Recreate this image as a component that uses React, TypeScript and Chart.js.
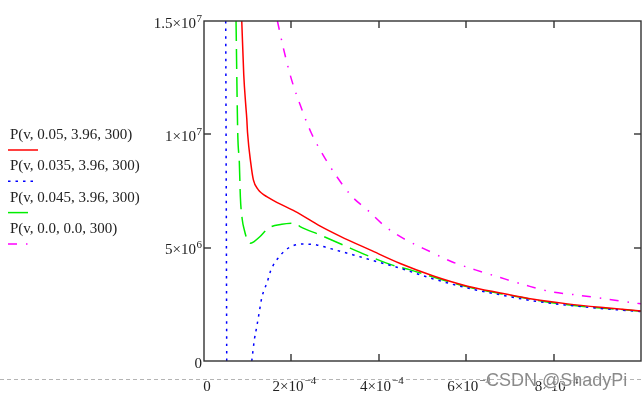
import React, { useEffect, useRef } from 'react';
import { Chart, registerables } from 'chart.js';

Chart.register(...registerables);

// ---- data (v in m^3/mol, P in Pa) ----
const redV = [8.64e-5, 9.1e-5, 9.55e-5, 9.78e-5, 9.97e-5, 1.07e-4, 1.13e-4, 1.244e-4, 1.322e-4, 1.436e-4, 1.665e-4, 2.085e-4, 2.66e-4, 3.12e-4, 3.8e-4, 4.49e-4, 5.25e-4, 6.03e-4, 6.78e-4, 7.54e-4, 8.32e-4, 9.07e-4, 1.0e-3];
const redP = [1.5e7, 1.262e7, 1.13e7, 1.072e7, 1.006e7, 8.74e6, 7.99e6, 7.55e6, 7.4e6, 7.25e6, 7.0e6, 6.6e6, 5.95e6, 5.5e6, 4.9e6, 4.3e6, 3.75e6, 3.3e6, 3.0e6, 2.72e6, 2.52e6, 2.37e6, 2.21e6];

const blueLeftV = [4.97e-5, 5.09e-5, 5.2e-5];
const blueLeftP = [1.5e7, 7.55e6, 0];
const blueRightV = [1.093e-4, 1.152e-4, 1.207e-4, 1.267e-4, 1.322e-4, 1.381e-4, 1.45e-4, 1.528e-4, 1.588e-4, 1.679e-4, 1.84e-4, 2.046e-4, 2.275e-4, 2.58e-4, 2.96e-4, 3.42e-4, 3.96e-4, 4.41e-4, 5.25e-4, 6.03e-4, 6.78e-4, 7.54e-4, 8.32e-4, 9.07e-4, 1.0e-3];
const blueRightP = [0, 0.93e6, 1.51e6, 2.18e6, 2.8e6, 3.15e6, 3.5e6, 4.0e6, 4.24e6, 4.5e6, 4.85e6, 5.09e6, 5.16e6, 5.12e6, 4.92e6, 4.68e6, 4.38e6, 4.14e6, 3.62e6, 3.22e6, 2.92e6, 2.65e6, 2.46e6, 2.32e6, 2.18e6];

const greenV = [7.33e-5, 7.72e-5, 8.09e-5, 8.32e-5, 8.77e-5, 9.23e-5, 9.74e-5, 1.054e-4, 1.146e-4, 1.283e-4, 1.473e-4, 1.78e-4, 2.085e-4, 2.2e-4, 2.66e-4, 3.18e-4, 3.73e-4, 4.33e-4, 4.72e-4, 5.25e-4, 6.03e-4, 6.78e-4, 8.32e-4, 1.0e-3];
const greenP = [1.5e7, 1.006e7, 8.74e6, 7.25e6, 6.22e6, 5.78e6, 5.43e6, 5.19e6, 5.27e6, 5.49e6, 5.86e6, 6.03e6, 6.08e6, 5.93e6, 5.56e6, 5.12e6, 4.66e6, 4.22e6, 4.02e6, 3.7e6, 3.27e6, 2.97e6, 2.48e6, 2.2e6];

const pinkV = [1.68e-4, 1.817e-4, 1.993e-4, 2.2e-4, 2.45e-4, 2.697e-4, 3.04e-4, 3.39e-4, 3.74e-4, 4.15e-4, 4.56e-4, 5.18e-4, 5.67e-4, 6.21e-4, 6.78e-4, 7.35e-4, 7.93e-4, 8.54e-4, 9.19e-4, 1.0e-3];
const pinkP = [1.5e7, 1.38e7, 1.248e7, 1.13e7, 1.008e7, 9.18e6, 8.13e6, 7.25e6, 6.66e6, 5.93e6, 5.41e6, 4.82e6, 4.38e6, 4.02e6, 3.68e6, 3.35e6, 3.06e6, 2.91e6, 2.74e6, 2.52e6];

const seriesLabels = ['P(v, 0.05, 3.96, 300)', 'P(v, 0.035, 3.96, 300)', 'P(v, 0.045, 3.96, 300)', 'P(v, 0.0, 0.0, 300)'];

const xTickValues = [0, 2e-4, 4e-4, 6e-4, 8e-4];
const xTickBase = ['0', '2×10', '4×10', '6×10', '8×10'];
const xTickExp = ['', '−4', '−4', '−4', '−4'];
const yTickValues = [0, 5e6, 1e7, 1.5e7];
const yTickBase = ['0', '5×10', '1×10', '1.5×10'];
const yTickExp = ['', '6', '7', '7'];

const watermark = 'CSDN @ShadyPi';

// ---- styles ----
const SERIF = '"Liberation Serif", "Times New Roman", serif';
const SANS = '"Liberation Sans", Arial, sans-serif';
const styles = [
  { color: '#ff0000', dash: [] as number[], sample: 30 },
  { color: '#0000ff', dash: [2.5, 5], sample: 25 },
  { color: '#00ee00', dash: [20, 8], sample: 20 },
  { color: '#ff00ff', dash: [9, 9, 1.5, 8.5], sample: 20 },
];

const pts = (vs: number[], ps: number[]) => vs.map((v, i) => ({ x: v, y: ps[i] }));

const decorPlugin = {
  id: 'decor',
  afterDatasetsDraw(chart: any) {
    const { ctx, chartArea: a, scales } = chart;
    const xs = scales.x;
    const ys = scales.y;
    ctx.save();

    // frame
    ctx.strokeStyle = '#333333';
    ctx.lineWidth = 1.4;
    ctx.setLineDash([]);
    ctx.strokeRect(a.left, a.top, a.right - a.left, a.bottom - a.top);

    const line = (x1: number, y1: number, x2: number, y2: number) => {
      ctx.beginPath();
      ctx.moveTo(x1, y1);
      ctx.lineTo(x2, y2);
      ctx.stroke();
    };
    // inner ticks
    xTickValues.forEach((v) => {
      if (v <= xs.min || v >= xs.max) return;
      const px = Math.round(xs.getPixelForValue(v));
      line(px, a.top, px, a.top + 7);
      line(px, a.bottom, px, a.bottom - 7);
    });
    yTickValues.forEach((v) => {
      if (v <= ys.min || v >= ys.max) return;
      const py = Math.round(ys.getPixelForValue(v));
      line(a.left, py, a.left + 7, py);
      line(a.right, py, a.right - 7, py);
    });

    // bottom dashed separator (page artefact)
    ctx.strokeStyle = '#b4b4b4';
    ctx.lineWidth = 1;
    ctx.setLineDash([4, 3]);
    line(0, 379.5, chart.width, 379.5);
    ctx.setLineDash([]);

    ctx.fillStyle = '#222222';
    ctx.textBaseline = 'alphabetic';
    // x tick labels
    xTickValues.forEach((v, i) => {
      const px = xs.getPixelForValue(v) + 3;
      ctx.font = `15px ${SERIF}`;
      const wb = ctx.measureText(xTickBase[i]).width;
      ctx.font = `11px ${SERIF}`;
      const we = xTickExp[i] ? ctx.measureText(xTickExp[i]).width + 1 : 0;
      const start = px - (wb + we) / 2;
      const base = a.bottom + 30;
      ctx.textAlign = 'left';
      ctx.font = `15px ${SERIF}`;
      ctx.fillText(xTickBase[i], start, base);
      if (xTickExp[i]) {
        ctx.font = `11px ${SERIF}`;
        ctx.fillText(xTickExp[i], start + wb + 1, base - 7);
      }
    });
    // y tick labels
    yTickValues.forEach((v, i) => {
      const py = ys.getPixelForValue(v);
      const right = a.left - 2;
      const base = py + 6.5;
      ctx.textAlign = 'right';
      let we = 0;
      if (yTickExp[i]) {
        ctx.font = `11px ${SERIF}`;
        we = ctx.measureText(yTickExp[i]).width + 0.5;
        ctx.fillText(yTickExp[i], right, base - 6);
      }
      ctx.font = `15px ${SERIF}`;
      ctx.fillText(yTickBase[i], right - we, base);
    });

    // legend (Mathcad style: label above line sample)
    seriesLabels.forEach((lab, i) => {
      const ty = 139 + i * 31.3;
      ctx.font = `15px ${SERIF}`;
      ctx.textAlign = 'left';
      ctx.fillStyle = '#222222';
      ctx.fillText(lab, 10, ty);
      ctx.strokeStyle = styles[i].color;
      ctx.lineWidth = 1.5;
      ctx.setLineDash(styles[i].dash);
      line(8, ty + 11, 8 + styles[i].sample, ty + 11);
      ctx.setLineDash([]);
    });

    // watermark
    ctx.font = `18px ${SANS}`;
    ctx.textAlign = 'left';
    ctx.lineWidth = 2;
    ctx.strokeStyle = 'rgba(255,255,255,0.6)';
    ctx.strokeText(watermark, 486, 386);
    ctx.fillStyle = 'rgba(125,125,125,0.9)';
    ctx.fillText(watermark, 486, 386);

    ctx.restore();
  },
};

export default function App() {
  const ref = useRef<HTMLCanvasElement | null>(null);
  useEffect(() => {
    document.body.style.margin = '0';
    const canvas = ref.current;
    if (!canvas) return;
    const mk = (label: string, data: any[], s: { color: string; dash: number[] }) => ({
      label,
      data,
      borderColor: s.color,
      backgroundColor: s.color,
      borderWidth: 1.5,
      borderDash: s.dash,
      pointRadius: 0,
      showLine: true,
      fill: false,
      cubicInterpolationMode: 'monotone' as const,
      clip: 0,
    });
    const chart = new Chart(canvas, {
      type: 'scatter',
      data: {
        datasets: [
          mk(seriesLabels[0], pts(redV, redP), styles[0]),
          mk(seriesLabels[1], pts(blueLeftV, blueLeftP), styles[1]),
          mk(seriesLabels[1], pts(blueRightV, blueRightP), styles[1]),
          mk(seriesLabels[2], pts(greenV, greenP), styles[2]),
          mk(seriesLabels[3], pts(pinkV, pinkP), styles[3]),
        ],
      },
      options: {
        responsive: false,
        animation: false,
        devicePixelRatio: 1,
        layout: { padding: { left: 0, top: 21, right: 2, bottom: 0 } },
        plugins: { legend: { display: false }, tooltip: { enabled: false } },
        scales: {
          x: {
            type: 'linear',
            min: 0,
            max: 1e-3,
            grid: { display: false },
            border: { display: false },
            ticks: { display: false },
            afterFit: (s: any) => { s.height = 37; },
          },
          y: {
            type: 'linear',
            min: 0,
            max: 1.5e7,
            grid: { display: false },
            border: { display: false },
            ticks: { display: false },
            afterFit: (s: any) => { s.width = 204; },
          },
        },
      },
      plugins: [decorPlugin],
    });
    return () => chart.destroy();
  }, []);
  return (
    <div style={{ position: 'fixed', left: 0, top: 0, width: 643, height: 398, background: '#fff' }}>
      <canvas ref={ref} width={643} height={398} style={{ display: 'block' }} />
    </div>
  );
}
